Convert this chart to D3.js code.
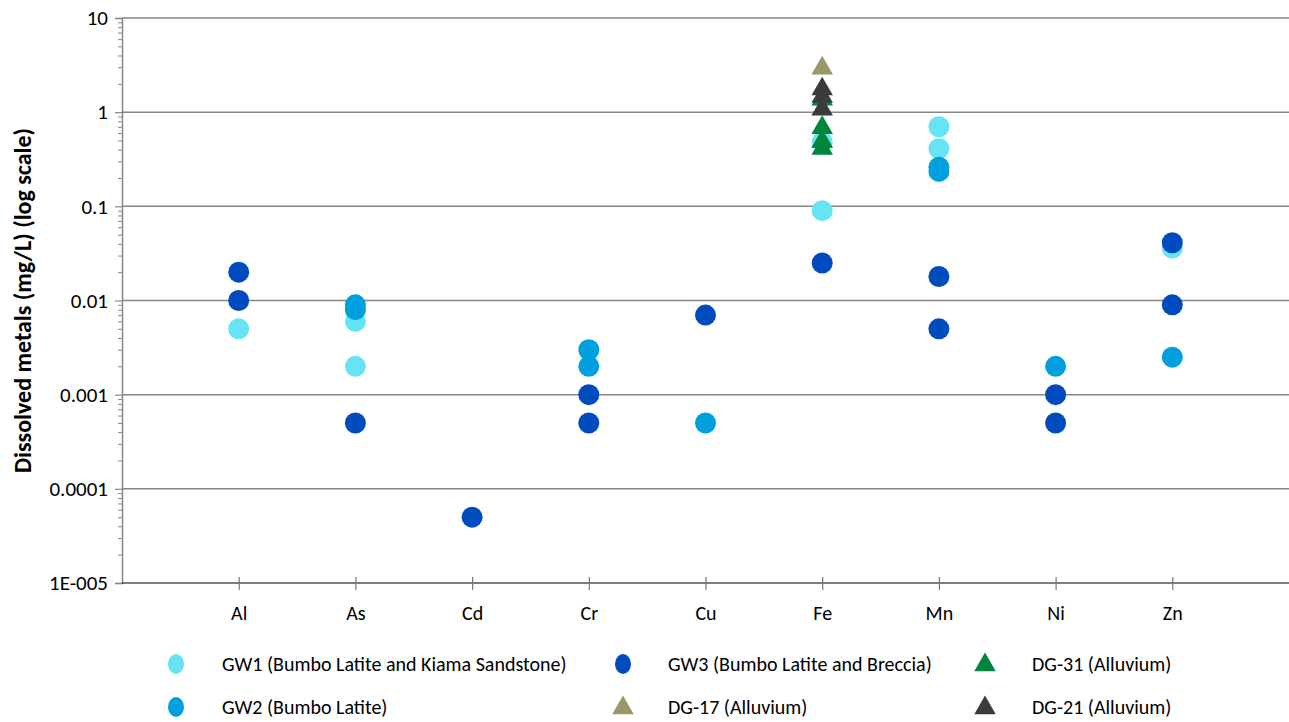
<!DOCTYPE html>
<html>
<head>
<meta charset="utf-8">
<script src="https://cdn.jsdelivr.net/npm/d3@7/dist/d3.min.js"></script>
<style>
  html, body { margin: 0; padding: 0; background: #fff; }
  svg { display: block; font-family: Carlito, Lato, "Open Sans", sans-serif; }
</style>
</head>
<body>
<svg id="chart" width="1289" height="722"></svg>
<script>
// Metals on the x axis (positions 1..9 on a 0..10 axis)
const metals = ["Al", "As", "Cd", "Cr", "Cu", "Fe", "Mn", "Ni", "Zn"];

// Dissolved metal concentrations (mg/L), as [metal, value]
const gw1 = [["Al", 0.005], ["As", 0.006], ["As", 0.002], ["Fe", 0.48], ["Fe", 0.09],
             ["Mn", 0.7], ["Mn", 0.41], ["Zn", 0.036]];
const gw2 = [["As", 0.009], ["As", 0.008], ["Cr", 0.003], ["Cr", 0.002], ["Cu", 0.0005],
             ["Mn", 0.26], ["Mn", 0.235], ["Ni", 0.002], ["Zn", 0.0025]];
const gw3 = [["Al", 0.02], ["Al", 0.01], ["As", 0.0005], ["Cd", 0.00005], ["Cr", 0.001],
             ["Cr", 0.0005], ["Cu", 0.007], ["Fe", 0.025], ["Mn", 0.018], ["Mn", 0.005],
             ["Ni", 0.001], ["Ni", 0.0005], ["Zn", 0.041], ["Zn", 0.009]];
const dg17 = [["Fe", 3.0], ["Fe", 0.5]];
const dg31 = [["Fe", 1.4], ["Fe", 0.7], ["Fe", 0.5], ["Fe", 0.42]];
const dg21 = [["Fe", 1.8], ["Fe", 1.5], ["Fe", 1.1]];

const yTicks = [10, 1, 0.1, 0.01, 0.001, 0.0001, 0.00001];
const yTickLabels = ["10", "1", "0.1", "0.01", "0.001", "0.0001", "1E-005"];

// Series in drawing order
const series = [
  { name: "GW1 (Bumbo Latite and Kiama Sandstone)", data: gw1, shape: "circle",   color: "#67e4f3" },
  { name: "GW2 (Bumbo Latite)",                     data: gw2, shape: "circle",   color: "#00a0df" },
  { name: "GW3 (Bumbo Latite and Breccia)",         data: gw3, shape: "circle",   color: "#004cbf" },
  { name: "DG-17 (Alluvium)",                       data: dg17, shape: "triangle", color: "#9a986a" },
  { name: "DG-31 (Alluvium)",                       data: dg31, shape: "triangle", color: "#00853d" },
  { name: "DG-21 (Alluvium)",                       data: dg21, shape: "triangle", color: "#3b3b3b" }
];
// Legend layout: three columns, two rows
const legendOrder = [
  "GW1 (Bumbo Latite and Kiama Sandstone)", "GW3 (Bumbo Latite and Breccia)", "DG-31 (Alluvium)",
  "GW2 (Bumbo Latite)", "DG-17 (Alluvium)", "DG-21 (Alluvium)"
];

const svg = d3.select("#chart");
const plotL = 122, plotR = 1289, plotT = 18, plotB = 583;

const x = d3.scaleLinear().domain([0, 10]).range([plotL, plotR]);
const y = d3.scaleLog().domain([1e-5, 10]).range([plotB, plotT]);
const xPos = m => x(metals.indexOf(m) + 1);

// Horizontal gridlines at each decade
svg.append("g").selectAll("line").data(yTicks.filter(v => v > 1e-5)).join("line")
  .attr("x1", plotL).attr("x2", plotR)
  .attr("y1", d => y(d)).attr("y2", d => y(d))
  .attr("stroke", "#868686").attr("stroke-width", 1.5);

// Y axis with minor log ticks
const minor = [];
for (let e = -5; e < 1; e++) for (let k = 2; k <= 9; k++) minor.push(k * Math.pow(10, e));
svg.append("g").attr("transform", `translate(${plotL},0)`)
  .call(d3.axisLeft(y).tickValues(minor).tickSize(4).tickFormat(""))
  .call(g => g.select(".domain").remove())
  .call(g => g.selectAll("line").attr("stroke", "#868686"));
const yMajor = svg.append("g").attr("transform", `translate(${plotL},0)`)
  .call(d3.axisLeft(y).tickValues(yTicks).tickSize(7).tickPadding(7)
    .tickFormat((d, i) => yTickLabels[i]));
yMajor.select(".domain").attr("stroke", "#868686").attr("stroke-width", 1.5);
yMajor.selectAll("line").attr("stroke", "#868686").attr("stroke-width", 1.2);
yMajor.selectAll("text").style("font-size", "21px").attr("fill", "#000")
  .attr("font-family", "Carlito, Lato, sans-serif");

// X axis with ticks crossing the line
const xAxis = svg.append("g").attr("transform", `translate(0,${plotB})`)
  .call(d3.axisBottom(x).tickValues(d3.range(1, 10)).tickSize(7).tickPadding(16)
    .tickFormat(d => metals[d - 1]));
xAxis.select(".domain").attr("stroke", "#000").attr("stroke-width", 1.2).attr("d", `M${plotL},0H${plotR}`);
xAxis.selectAll(".tick line").attr("y1", -6).attr("y2", 7).attr("stroke", "#777").attr("stroke-width", 1.2);
xAxis.selectAll("text").style("font-size", "20px").attr("fill", "#000")
  .attr("font-family", "Carlito, Lato, sans-serif");

// Y axis title
svg.append("text")
  .attr("transform", `translate(31,${(plotT + plotB) / 2}) rotate(-90)`)
  .attr("text-anchor", "middle")
  .attr("font-size", 24).attr("font-weight", "bold")
  .text("Dissolved metals (mg/L) (log scale)");

// Marker drawing
const tri = d3.symbol().type(d3.symbolTriangle).size(200);
function drawMarker(g, s, cx, cy, legend) {
  if (s.shape === "circle") {
    if (legend) {
      g.append("ellipse").attr("cx", cx).attr("cy", cy).attr("rx", 8).attr("ry", 10).attr("fill", s.color);
    } else {
      g.append("circle").attr("cx", cx).attr("cy", cy).attr("r", 10.5).attr("fill", s.color);
    }
  } else {
    g.append("path").attr("d", tri).attr("transform", `translate(${cx},${cy + 1})`).attr("fill", s.color);
  }
}

const plot = svg.append("g");
series.forEach(s => {
  s.data.forEach(([m, v]) => drawMarker(plot, s, xPos(m), y(v), false));
});

// Legend
const legX = [176, 623, 985], legTextX = [222, 668, 1032], legY = [664, 707];
const leg = svg.append("g");
legendOrder.forEach((name, i) => {
  const s = series.find(d => d.name === name);
  const col = i % 3, row = Math.floor(i / 3);
  drawMarker(leg, s, legX[col], legY[row], true);
  leg.append("text").attr("x", legTextX[col]).attr("y", legY[row])
    .attr("dy", "0.35em").attr("font-size", 20).text(name);
});
</script>
</body>
</html>
